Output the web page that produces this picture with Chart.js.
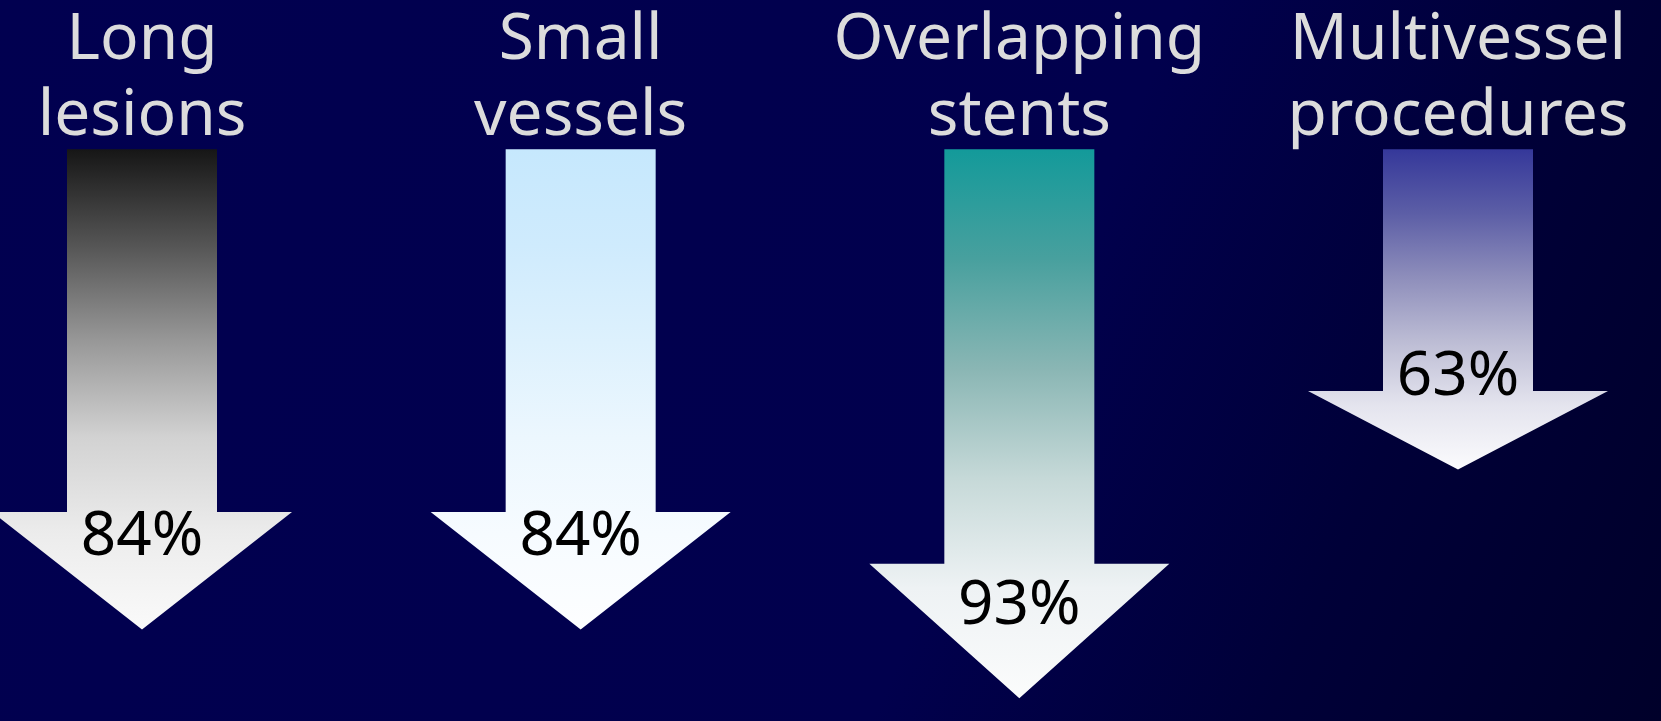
<!DOCTYPE html>
<html>
<head>
<meta charset="utf-8">
<title>Reduction by lesion subset</title>
<script src="https://cdn.jsdelivr.net/npm/chart.js@4.4.0/dist/chart.umd.min.js"></script>
<style>
  html, body { margin: 0; padding: 0; background: #01004f; }
  #wrap { width: 1661px; height: 721px; }
</style>
</head>
<body>
<div id="wrap"><canvas id="arrows"></canvas></div>
<script>
// reduction per lesion subset, one down arrow each
const categories = [['Long', 'lesions'], ['Small', 'vessels'], ['Overlapping', 'stents'], ['Multivessel', 'procedures']]
const reductions = [84, 84, 93, 63]
const valueLabels = reductions.map(v => v + '%')

// fill of each arrow, top to tip, at 0 / 20 / 40 / 60 / 80 / 100 %
const stopAt = [0, 0.2, 0.4, 0.6, 0.8, 1]
const arrowStops = [
  ['#161616', '#555555', '#989898', '#d2d2d2', '#ececec', '#fafafa'],
  ['#c6e8fd', '#cfebfd', '#ddf1fd', '#ecf7fe', '#f6fbff', '#fdfeff'],
  ['#139a9a', '#48a09e', '#8ab6b4', '#c6d9d8', '#eef2f4', '#fbfcfc'],
  ['#35389a', '#5c5ea6', '#8e8ebb', '#bcbcd4', '#e4e4ee', '#fbfbfd']
]

const background = {
  id: 'background',
  beforeDraw(chart) {
    const { ctx, width, height } = chart
    const g = ctx.createLinearGradient(0, 0, width, height)
    g.addColorStop(0, '#010050')
    g.addColorStop(0.6, '#01004d')
    g.addColorStop(0.8, '#000038')
    g.addColorStop(1, '#00002a')
    ctx.save()
    ctx.fillStyle = g
    ctx.fillRect(0, 0, width, height)
    ctx.restore()
  }
}

// each bar is drawn as a block arrow: shaft = bar width, head = twice that
const downArrows = {
  id: 'downArrows',
  afterDatasetsDraw(chart) {
    const ctx = chart.ctx
    const yScale = chart.scales.y
    const top = yScale.getPixelForValue(yScale.min)
    const meta = chart.getDatasetMeta(0)
    meta.data.forEach((bar, i) => {
      const { x, y, width } = bar.getProps(['x', 'y', 'width'], true)
      const len = y - top
      const neck = y - len * 0.245
      const half = width / 2

      const g = ctx.createLinearGradient(0, top, 0, y)
      arrowStops[i].forEach((c, k) => g.addColorStop(stopAt[k], c))

      ctx.save()
      ctx.beginPath()
      ctx.moveTo(x - half, top)
      ctx.lineTo(x + half, top)
      ctx.lineTo(x + half, neck)
      ctx.lineTo(x + width, neck)
      ctx.lineTo(x, y)
      ctx.lineTo(x - width, neck)
      ctx.lineTo(x - half, neck)
      ctx.closePath()
      ctx.fillStyle = g
      ctx.fill()

      ctx.fillStyle = '#000000'
      ctx.font = '62px "Noto Sans"'
      ctx.textAlign = 'center'
      ctx.textBaseline = 'middle'
      ctx.fillText(valueLabels[i], x, y - 92)
      ctx.restore()
    })
  }
}

new Chart(document.getElementById('arrows'), {
  type: 'bar',
  data: {
    labels: categories,
    datasets: [{
      data: reductions,
      backgroundColor: 'rgba(0,0,0,0)',
      barThickness: 150
    }]
  },
  options: {
    responsive: true,
    maintainAspectRatio: false,
    animation: false,
    layout: { padding: { left: 142, right: 203, top: 9, bottom: 0 } },
    plugins: {
      legend: { display: false },
      tooltip: { enabled: false }
    },
    scales: {
      x: {
        position: 'top',
        offset: false,
        grid: { display: false, drawTicks: false },
        border: { display: false },
        ticks: {
          color: '#dcdcdc',
          font: { family: 'Noto Sans', size: 64, lineHeight: 1.19 },
          padding: -6,
          maxRotation: 0,
          autoSkip: false
        }
      },
      y: { display: false, reverse: true, min: 21, max: 96 }
    }
  },
  plugins: [background, downArrows]
})
</script>
</body>
</html>
